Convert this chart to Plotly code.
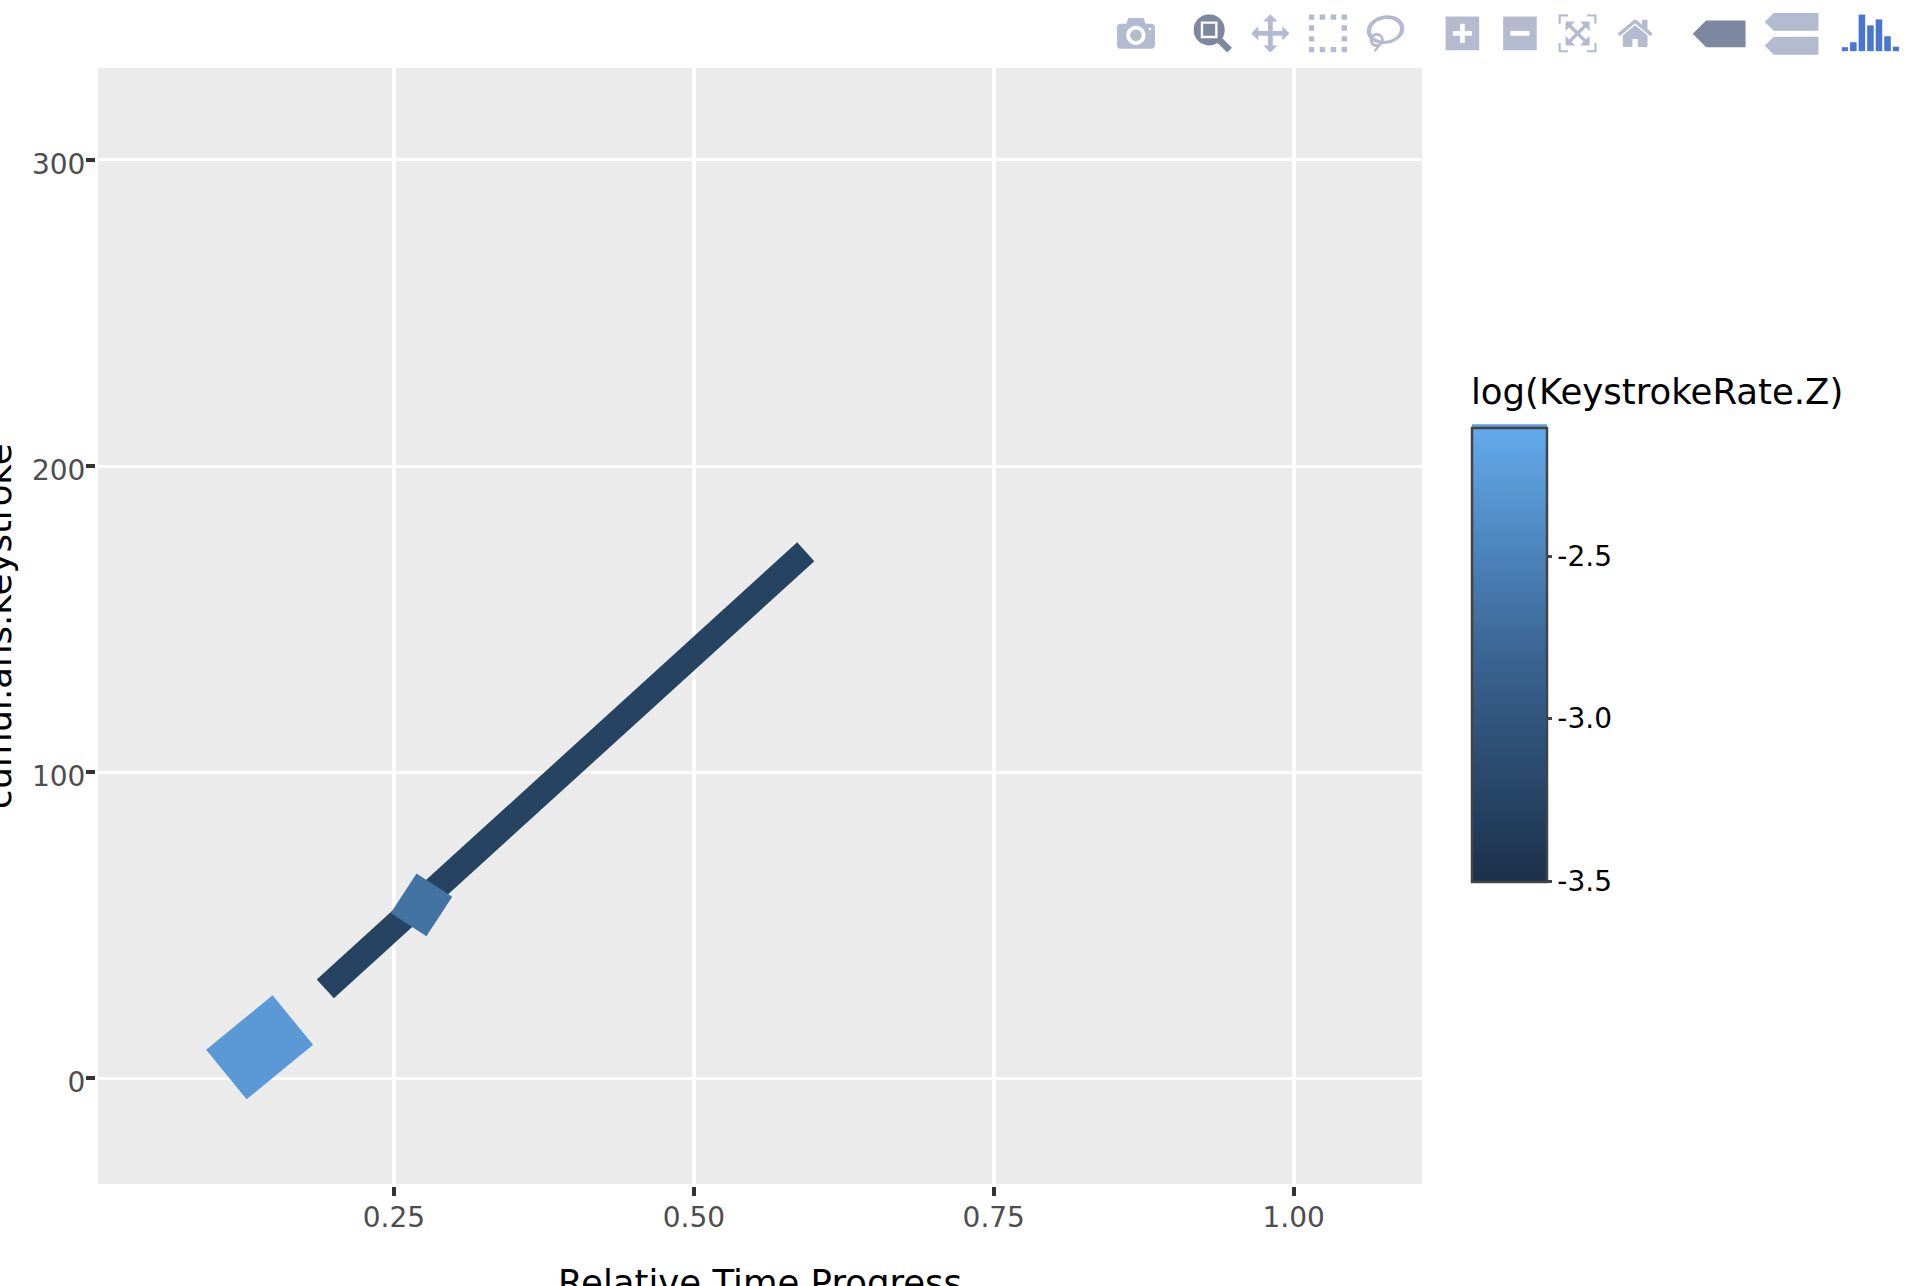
import plotly.graph_objects as go

# Data
seg_x = [[0.1928, 0.5933], [0.2622, 0.2837], [0.1103, 0.1657]]
seg_y = [[29.25, 172.0], [50.2, 63.1], [1.27, 19.05]]
seg_z = [-3.2, -2.7, -2.3]
seg_width = [25.5, 42.6, 63.9]
seg_color = ["#264462", "#4373A3", "#5A99D5"]

x_ticks = [0.25, 0.50, 0.75, 1.00]
x_labels = ["0.25", "0.50", "0.75", "1.00"]
y_ticks = [0, 100, 200, 300]
y_labels = ["0", "100", "200", "300"]
cbar_ticks = [-2.5, -3.0, -3.5]
cbar_labels = ["-2.5", "-3.0", "-3.5"]
scale = [[0, "#1B304A"], [0.5, "#3A6593"], [1, "#63A9EC"]]

FONT = "DejaVu Sans"
fig = go.Figure()
for xs, ys, z, w, c in zip(seg_x, seg_y, seg_z, seg_width, seg_color):
    fig.add_trace(go.Scatter(x=xs, y=ys, mode="lines", line=dict(color=c, width=w),
                             showlegend=False, hoverinfo="x+y"))
fig.add_trace(go.Scatter(
    x=[s[0] for s in seg_x], y=[s[0] for s in seg_y], mode="markers", showlegend=False, hoverinfo="skip",
    marker=dict(color=seg_z, colorscale=scale, cmin=-3.503, cmax=-2.106, opacity=0, size=1,
                colorbar=dict(
                    tickmode="array", tickvals=cbar_ticks, ticktext=cbar_labels,
                    ticks="outside", ticklen=4, tickwidth=3, tickcolor="#444",
                    tickfont=dict(family=FONT, size=28, color="#000"),
                    thickness=75, thicknessmode="pixels", len=453.5, lenmode="pixels",
                    x=(1472 - 97.5) / 1324.5, xanchor="left", y=(1184 - 428) / 1116, yanchor="top",
                    xpad=0, ypad=0, outlinecolor="#444", outlinewidth=2.5, borderwidth=0))))

axis_font = dict(family=FONT, size=28, color="#4D4D4D")
title_font = dict(family=FONT, size=35.5, color="#000")
fig.update_layout(
    width=1912, height=1286, autosize=False,
    margin=dict(l=97.5, r=490, t=68, b=102, pad=0),
    paper_bgcolor="#FFFFFF", plot_bgcolor="#EBEBEB",
    dragmode="zoom", hovermode="closest",
    modebar=dict(color="#B4BBCF", activecolor="#7D879F", bgcolor="rgba(0,0,0,0)"),
    xaxis=dict(range=[0.0033, 1.107], tickmode="array", tickvals=x_ticks, ticktext=x_labels,
               showgrid=True, gridcolor="#FFFFFF", gridwidth=4, zeroline=False,
               ticks="outside", ticklen=9, tickwidth=3.7, tickcolor="#333",
               showline=True, linecolor="rgba(0,0,0,0)", linewidth=3,
               tickfont=axis_font, ticklabelstandoff=-3, automargin=False),
    yaxis=dict(range=[-34.5, 330], tickmode="array", tickvals=y_ticks, ticktext=y_labels,
               showgrid=True, gridcolor="#FFFFFF", gridwidth=3, zeroline=False,
               ticks="outside", ticklen=9, tickwidth=3.7, tickcolor="#333",
               showline=True, linecolor="rgba(0,0,0,0)", linewidth=3,
               tickfont=axis_font, ticklabelstandoff=-5, ticklabelshift=4, automargin=False),
    annotations=[
        dict(text="Relative Time Progress", xref="paper", yref="paper", x=0.5, y=0,
             xanchor="center", yanchor="top", yshift=-76, showarrow=False, font=title_font),
        dict(text="cumul.ans.keystroke", xref="paper", yref="paper", x=0, y=0.5,
             xanchor="center", yanchor="middle", xshift=-100, textangle=-90, showarrow=False, font=title_font),
        dict(text="log(KeystrokeRate.Z)", xref="paper", yref="paper",
             x=(1469 - 97.5) / 1324.5, y=(1184 - 391) / 1116,
             xanchor="left", yanchor="middle", showarrow=False, font=title_font),
    ],
    shapes=[dict(type="rect", xref="paper", yref="paper", layer="above",
                 x0=(1472 - 97.5) / 1324.5, x1=(1547 - 97.5) / 1324.5,
                 y0=(1184 - 428) / 1116, y1=(1184 - 424.3) / 1116,
                 fillcolor="#5F9FDC", line=dict(width=0))],
)

config = dict(displayModeBar=True, displaylogo=True, responsive=False,
              modeBarButtons=[["toImage"],
                              ["zoom2d", "pan2d", "select2d", "lasso2d"],
                              ["zoomIn2d", "zoomOut2d", "autoScale2d", "resetScale2d"],
                              ["hoverClosestCartesian", "hoverCompareCartesian"]])

# Page and toolbar styling, including the older bar-chart logo shown in the reference.
post = """
var s=document.createElement('style');
s.textContent='html,body{margin:0;padding:0;overflow:hidden}'
 +'.modebar{transform:scale(2.4);transform-origin:top right;right:3px !important;top:7px !important}'
 +'.modebar-btn[data-attr="hovermode"] svg{width:1.4em !important;height:1.4em !important}'
 +'.modebar-btn[data-attr="hovermode"]{padding-top:0 !important}'
 +'.modebar-btn--logo{margin-left:-6.6px}';
document.head.appendChild(s);
var a=document.querySelector('.modebar-btn--logo');
if(a){
 var h=[4,9,37,26,32,15,4.5],o='';
 for(var i=0;i<7;i++){o+='<rect x="'+(i*8.6)+'" y="'+(37-h[i])+'" width="6.6" height="'+h[i]+'" fill="#4A76D2"/>';}
 a.innerHTML='<svg viewBox="0 0 58 37" style="width:24px;height:15.5px;display:block">'+o+'</svg>';
}
"""
fig.write_html("out.html", config=config, post_script=post)
